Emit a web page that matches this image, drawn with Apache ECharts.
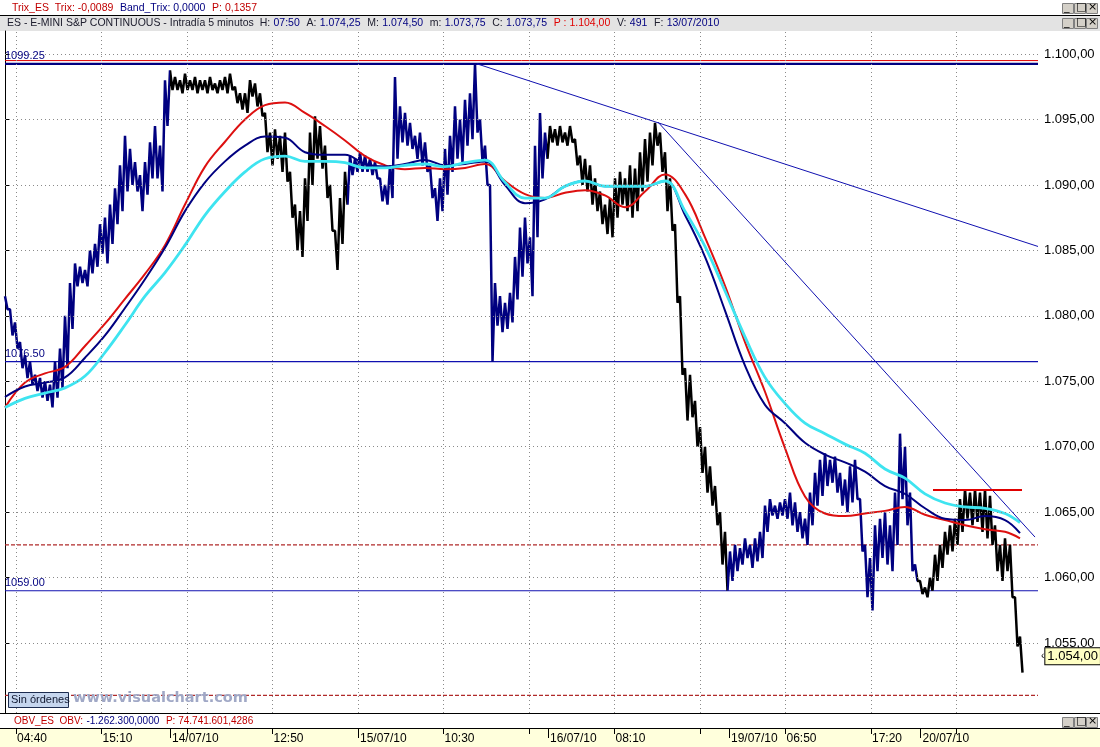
<!DOCTYPE html>
<html>
<head>
<meta charset="utf-8">
<script src="https://cdn.jsdelivr.net/npm/echarts@6.0.0/dist/echarts.min.js"></script>
<style>
html,body{margin:0;padding:0;background:#fff;}
#chart{width:1100px;height:747px;}
</style>
</head>
<body>
<div id="chart"></div>
<script>
// ES e-mini, barras de 5 minutos (una ranura = un grupo de barras)
var priceHigh = [
  1081.5,1080.5,1079.5,1078.0,1077.0,1076.5,1075.5,1075.25,1075.0,1074.75,
  1076.5,1077.5,1080.0,1082.5,1084.0,1083.75,1083.5,1085.0,1085.5,1087.0,
  1087.5,1088.5,1089.75,1091.5,1093.75,1092.75,1091.75,1090.75,1091.75,1093.25,
  1094.5,1093.0,1098.0,1098.75,1098.25,1098.0,1098.5,1098.0,1098.25,1098.0,
  1098.0,1098.25,1097.75,1098.0,1098.25,1098.5,1097.5,1097.0,1097.0,1098.0,
  1097.75,1097.0,1095.5,1094.0,1094.25,1093.75,1094.0,1091.0,1088.5,1088.0,
  1090.5,1094.0,1095.25,1094.5,1093.0,1090.0,1086.5,1089.0,1091.0,1092.25,
  1092.0,1092.5,1092.25,1092.0,1091.75,1090.5,1090.0,1091.5,1098.25,1096.0,
  1095.5,1094.75,1093.75,1094.0,1093.25,1091.5,1089.75,1090.5,1092.75,1093.75,
  1096.0,1095.0,1096.5,1097.0,1099.25,1095.0,1093.0,1090.0,1082.5,1081.5,
  1081.0,1081.75,1084.5,1086.75,1087.5,1086.0,1093.0,1095.5,1094.0,1094.5,
  1094.25,1094.5,1094.0,1094.5,1093.5,1092.25,1092.0,1091.5,1090.5,1089.5,
  1088.5,1089.0,1090.5,1091.0,1090.5,1091.5,1091.25,1092.5,1093.5,1094.0,
  1094.75,1094.0,1092.5,1090.5,1087.0,1081.5,1076.0,1075.5,1073.5,1071.5,
  1070.0,1068.5,1067.0,1065.0,1063.5,1062.0,1062.5,1062.25,1063.0,1062.5,
  1063.0,1063.5,1065.5,1066.0,1065.5,1065.75,1066.0,1066.5,1065.75,1065.0,
  1064.5,1066.5,1068.0,1069.0,1069.5,1069.0,1069.25,1068.0,1067.5,1068.5,
  1069.0,1066.0,1062.5,1061.5,1064.0,1064.5,1065.0,1064.0,1066.5,1071.0,
  1070.0,1066.5,1061.0,1059.75,1059.25,1060.0,1061.75,1062.5,1063.5,1064.0,
  1064.5,1066.0,1066.75,1066.5,1066.75,1066.5,1066.75,1066.25,1064.0,1062.5,
  1063.0,1062.5,1058.5,1055.5
];
var priceLow = [
  1080.5,1078.5,1077.5,1076.0,1075.25,1074.75,1074.25,1073.75,1073.5,1073.0,
  1073.75,1074.5,1076.0,1079.0,1082.25,1082.5,1082.25,1083.25,1083.75,1084.75,
  1084.0,1085.5,1087.0,1088.0,1089.5,1090.0,1089.5,1088.0,1089.25,1090.5,
  1090.5,1089.5,1094.5,1097.25,1097.25,1097.0,1097.25,1097.25,1097.0,1097.25,
  1097.0,1097.25,1097.0,1097.25,1097.0,1097.25,1096.25,1095.75,1095.5,1096.75,
  1096.0,1095.25,1092.5,1091.5,1092.0,1091.0,1090.25,1087.5,1085.0,1084.5,
  1087.25,1090.0,1092.0,1091.25,1089.0,1086.5,1083.5,1085.5,1088.5,1090.75,
  1091.0,1091.0,1091.0,1090.75,1090.5,1088.75,1088.5,1089.0,1092.0,1093.25,
  1093.0,1092.75,1092.0,1091.5,1091.0,1089.0,1087.25,1088.0,1089.25,1091.0,
  1092.0,1091.75,1093.0,1093.5,1094.0,1091.75,1090.0,1076.5,1079.25,1078.75,
  1079.0,1079.5,1081.25,1083.0,1084.0,1081.5,1086.0,1090.5,1092.0,1093.25,
  1093.0,1093.25,1093.0,1093.25,1091.5,1090.0,1089.5,1088.5,1088.0,1087.0,
  1086.25,1086.0,1087.5,1088.5,1088.0,1087.5,1088.0,1089.5,1090.25,1091.5,
  1093.0,1091.0,1088.0,1086.5,1081.0,1075.5,1072.0,1072.25,1070.0,1068.0,
  1066.5,1065.5,1064.0,1061.0,1059.0,1059.75,1060.5,1061.0,1061.5,1060.75,
  1061.25,1061.5,1063.5,1064.75,1064.5,1064.75,1064.5,1064.0,1063.5,1063.0,
  1062.5,1064.0,1065.5,1066.25,1067.0,1067.25,1066.5,1065.5,1065.0,1065.75,
  1066.0,1062.0,1058.5,1057.5,1060.5,1061.5,1061.0,1060.5,1062.5,1066.0,
  1064.0,1060.5,1059.75,1058.75,1058.5,1059.0,1059.75,1060.75,1061.75,1062.0,
  1062.5,1063.5,1064.5,1064.0,1064.25,1063.5,1063.0,1062.5,1060.5,1059.75,
  1060.5,1058.5,1054.75,1052.75
];
var lastClose = 1054.0;

// tramos de color de las barras (azul / negro)
var colorBreaks = [33, 68.5, 108.5, 144.5, 182.5];

// medias moviles
var maSlots = [0,4,8,12,16,20,24,28,32,36,40,44,48,52,56,60,64,68,72,76,
  80,84,88,92,96,100,104,108,112,116,120,124,128,132,136,140,144,148,152,156,
  160,164,168,172,176,180,184,188,192,196,200,203];
var maRed = [1073.0,1074.9,1075.6,1076.1,1077.7,1079.4,1081.3,1083.2,1085.4,1088.5,
  1091.4,1093.3,1095.0,1096.1,1096.3,1095.5,1094.5,1093.4,1092.2,1091.5,
  1091.2,1091.3,1091.2,1091.3,1091.6,1090.3,1089.3,1089.0,1089.4,1089.6,
  1089.2,1088.3,1089.5,1090.8,1089.3,1086.0,1082.3,1078.0,1074.2,1069.9,
  1066.2,1064.9,1064.7,1064.9,1065.1,1065.4,1064.8,1064.4,1064.0,1063.7,
  1063.5,1063.0];
var maNavy = [1073.8,1074.6,1074.9,1075.3,1076.8,1078.5,1080.6,1082.8,1085.2,1088.0,
  1090.2,1091.8,1093.0,1093.7,1093.6,1092.5,1092.3,1092.3,1091.6,1091.4,
  1091.6,1091.9,1091.5,1091.6,1091.8,1090.0,1088.6,1088.9,1089.9,1090.3,
  1089.9,1089.9,1089.9,1090.3,1087.7,1084.5,1080.4,1076.2,1073.2,1071.8,
  1070.3,1069.4,1068.8,1068.1,1067.0,1066.4,1065.3,1064.5,1064.4,1064.7,
  1064.4,1063.4];
var maCyan = [1073.0,1073.7,1074.1,1074.5,1075.4,1077.2,1079.3,1081.5,1083.3,1085.4,
  1087.7,1089.5,1091.0,1092.0,1092.2,1091.8,1091.8,1091.7,1091.3,1091.3,
  1091.5,1091.6,1091.4,1091.7,1091.9,1090.2,1089.0,1089.0,1089.9,1090.3,
  1089.9,1089.9,1089.9,1090.3,1088.0,1085.3,1081.9,1078.4,1075.3,1073.3,
  1071.8,1071.0,1070.2,1069.5,1068.3,1067.6,1066.4,1065.7,1065.4,1065.3,
  1064.9,1064.2];

// niveles y lineas dibujadas
var levelLines = [1099.25, 1076.5, 1059.0];
var levelTexts = ['1099.25', '1076.50', '1059.00'];
var redLevel = 1099.5;
var dashedLevels = [1062.5, 1051.0];
var trendLines = [[94.4, 1099.25, 206.6, 1085.3], [130.6, 1094.8, 206, 1063.1]];
var resistLine = [185.6, 203.4, 1066.75];

// ejes
var yTicks = [1055,1060,1065,1070,1075,1080,1085,1090,1095,1100];
var gridSlots = [2.2,19.3,36.4,53.5,70.6,87.7,104.8,121.9,139,156.1,173.2,190.3];
var timeSlots = [2.2,19.3,53.5,87.7,121.9,156.1,173.2];
var timeLabels = ['04:40','15:10','12:50','10:30','08:10','06:50','17:20'];
var dateSlots = [33,70.6,108.6,144.8,183.1];
var dateLabels = ['14/07/10','15/07/10','16/07/10','19/07/10','20/07/10'];

var X_MAX = 206.6, Y_MIN = 1049.66, Y_MAX = 1101.76;
var NAVY = '#000080', LNAVY = '#1010B0', RED = '#E00000', CYAN = '#3EE4F0', DRED = '#B02A2A';
var FONT = 'Liberation Sans';

function fmtPrice(v) {
  var p = v.toFixed(2).split('.');
  return p[0].replace(/\B(?=(\d{3})+(?!\d))/g, '.') + ',' + p[1];
}
function pick(slots, labels) {
  return function(v) {
    for (var i = 0; i < slots.length; i++) {
      if (Math.abs(slots[i] - v) < 0.01) return labels[i];
    }
    return '';
  };
}

var pricePts = [];
priceHigh.forEach(function(h, i) {
  pricePts.push([i, h]);
  pricePts.push([i + 0.5, priceLow[i]]);
});
function maPts(arr) {
  return arr.map(function(v, i) { return [maSlots[i], v]; });
}

var pieces = [];
var cols = [NAVY, '#000000'];
for (var i = 0; i <= colorBreaks.length; i++) {
  var pc = {color: cols[i % 2]};
  if (i > 0) pc.gte = colorBreaks[i - 1];
  if (i < colorBreaks.length) pc.lt = colorBreaks[i];
  pieces.push(pc);
}

function hLine(v, color, width, type) {
  return {type: 'line', data: [[0, v], [X_MAX, v]], showSymbol: false, symbol: 'none', silent: true, z: 2,
    lineStyle: {color: color, width: width, type: type}};
}

function winButtons() {
  var g = ['_', '□', '×'];
  var out = [];
  g.forEach(function(ch, i) {
    out.push({type: 'rect', shape: {x: i * 12 + 0.5, y: 0.5, width: 11, height: 10}, style: {fill: '#D4D0C8', stroke: '#808080', lineWidth: 1}});
    out.push({type: 'text', x: i * 12 + 2, y: -1, style: {text: ch, fill: '#000', fontSize: 11, fontFamily: 'DejaVu Sans'}});
  });
  return out;
}

var chart = echarts.init(document.getElementById('chart'));

var series = [
  { // cuadricula punteada
    type: 'line', data: [], silent: true,
    markLine: {silent: true, symbol: 'none', label: {show: false},
      lineStyle: {color: '#8a8a8a', type: [1, 3], width: 1},
      data: yTicks.map(function(v) { return {yAxis: v}; })
        .concat(gridSlots.map(function(s) { return {xAxis: s}; }))}
  },
  { // etiquetas de los niveles
    type: 'line', data: [], silent: true, clip: false,
    markLine: {silent: true, symbol: 'none', lineStyle: {width: 0, color: 'rgba(0,0,0,0)'},
      data: levelLines.map(function(v, i) {
        return {yAxis: v, label: {show: true, position: 'insideStartTop', distance: [0, 2], formatter: levelTexts[i],
          color: NAVY, fontSize: 11, fontFamily: FONT}};
      })}
  },
  { // precio
    type: 'line', data: pricePts, showSymbol: false, symbol: 'none', z: 3,
    lineStyle: {width: 2.5}
  },
  {type: 'line', data: maPts(maRed), smooth: 0.4, showSymbol: false, symbol: 'none', z: 4,
    lineStyle: {color: '#DD1010', width: 2}},
  {type: 'line', data: maPts(maNavy), smooth: 0.4, showSymbol: false, symbol: 'none', z: 4,
    lineStyle: {color: NAVY, width: 2}},
  {type: 'line', data: maPts(maCyan), smooth: 0.4, showSymbol: false, symbol: 'none', z: 4,
    lineStyle: {color: CYAN, width: 2.8}},
  { // lineas de tendencia y ultimo precio
    type: 'line', data: [], silent: true, z: 5, clip: false,
    markLine: {silent: true, symbol: 'none',
      data: trendLines.map(function(t) {
        return [{coord: [t[0], t[1]], lineStyle: {color: LNAVY, width: 1, type: 'solid'}, label: {show: false}},
                {coord: [t[2], t[3]]}];
      }).concat([[{coord: [resistLine[0], resistLine[2]], lineStyle: {color: RED, width: 2.2, type: 'solid'}, label: {show: false}},
                  {coord: [resistLine[1], resistLine[2]]}]])
        .concat([{yAxis: lastClose, lineStyle: {width: 0, color: 'rgba(0,0,0,0)'},
          label: {show: true, position: 'end', distance: 3,
            formatter: '{a|‹}{b|' + fmtPrice(lastClose) + '}',
            rich: {a: {fontSize: 10, color: '#000', padding: [0, 1, 0, 0]},
                   b: {fontSize: 13, fontFamily: FONT, color: '#000', backgroundColor: '#FFFFC4',
                     borderColor: '#000', borderWidth: 1, padding: [2, 2, 1, 2]}}}}])}
  },
  hLine(levelLines[0], NAVY, 2.2, 'solid'),
  hLine(redLevel, RED, 1, 'solid')
];
levelLines.slice(1).forEach(function(v) { series.push(hLine(v, LNAVY, 1.1, 'solid')); });
dashedLevels.forEach(function(v) { series.push(hLine(v, DRED, 1.2, [4, 2])); });

var option = {
  animation: false,
  backgroundColor: '#ffffff',
  grid: [
    {left: 5, right: 62, top: 31, bottom: 34},
    {left: 5, right: 62, top: 728, height: 1}
  ],
  xAxis: [
    {type: 'value', gridIndex: 0, min: 0, max: X_MAX, show: false},
    {type: 'value', gridIndex: 1, min: 0, max: X_MAX, position: 'bottom',
      axisLine: {show: false},
      axisTick: {show: true, length: 5, customValues: gridSlots, lineStyle: {color: '#000'}},
      axisLabel: {customValues: timeSlots, formatter: pick(timeSlots, timeLabels), align: 'left',
        padding: [0, 0, 0, 1], margin: 4, fontSize: 12, fontFamily: FONT, color: '#000'},
      splitLine: {show: false}},
    {type: 'value', gridIndex: 1, min: 0, max: X_MAX, position: 'bottom',
      axisLine: {show: false},
      axisTick: {show: true, length: 9, customValues: dateSlots, lineStyle: {color: '#000'}},
      axisLabel: {customValues: dateSlots, formatter: pick(dateSlots, dateLabels), align: 'left',
        padding: [0, 0, 0, 2], margin: 4, fontSize: 12, fontFamily: FONT, color: '#000'},
      splitLine: {show: false}}
  ],
  yAxis: [
    {type: 'value', gridIndex: 0, position: 'right', min: Y_MIN, max: Y_MAX,
      axisLine: {show: true, lineStyle: {color: '#000', width: 1}},
      axisTick: {show: true, length: 4, customValues: yTicks, lineStyle: {color: '#000'}},
      axisLabel: {customValues: yTicks, formatter: fmtPrice, margin: 6, fontSize: 13,
        fontFamily: FONT, color: '#000'},
      splitLine: {show: false}},
    {type: 'value', gridIndex: 1, show: false}
  ],
  visualMap: {type: 'piecewise', show: false, seriesIndex: 2, dimension: 0, pieces: pieces},
  series: series,
  graphic: [
    {type: 'rect', z: 0, shape: {x: 0, y: 15, width: 1100, height: 16}, style: {fill: '#E3E3E3'}},
    {type: 'line', z: 1, shape: {x1: 0, y1: 15.5, x2: 1100, y2: 15.5}, style: {stroke: '#000', lineWidth: 1}},
    {type: 'line', z: 1, shape: {x1: 0, y1: 713.5, x2: 1100, y2: 713.5}, style: {stroke: '#000', lineWidth: 1}},
    {type: 'rect', z: 0, shape: {x: 0, y: 729, width: 1100, height: 18}, style: {fill: '#FFFFDC'}},
    {type: 'line', z: 1, shape: {x1: 0, y1: 728.5, x2: 1100, y2: 728.5}, style: {stroke: '#000', lineWidth: 1}},
    {type: 'text', z: 10, left: 12, top: 2, style: {
      text: '{r|Trix_ES  Trix: -0,0089}  {b|Band_Trix: 0,0000}  {r|P: 0,1357}',
      rich: {r: {fill: '#C00000', fontSize: 10.5, fontFamily: FONT}, b: {fill: NAVY, fontSize: 10.5, fontFamily: FONT}}}},
    {type: 'text', z: 10, left: 7, top: 17, style: {
      text: '{k|ES - E-MINI S&P CONTINUOUS - Intradía 5 minutos  H:} {v|07:50}  {k|A:} {v|1.074,25}  {k|M:} {v|1.074,50}  {k|m:} {v|1.073,75}  {k|C:} {v|1.073,75}  {r|P : 1.104,00}  {k|V:} {v|491}  {k|F:} {v|13/07/2010}',
      rich: {k: {fill: '#202030', fontSize: 10.5, fontFamily: FONT}, v: {fill: NAVY, fontSize: 10.5, fontFamily: FONT},
             r: {fill: RED, fontSize: 10.5, fontFamily: FONT}}}},
    {type: 'text', z: 10, left: 14, top: 715, style: {
      text: '{r|OBV_ES  OBV:} {b|-1.262.300,0000}  {r|P: 74.741.601,4286}',
      rich: {r: {fill: '#C00000', fontSize: 10, fontFamily: FONT}, b: {fill: NAVY, fontSize: 10, fontFamily: FONT}}}},
    {type: 'rect', z: 10, shape: {x: 8.5, y: 692.5, width: 60, height: 15}, style: {fill: '#C6D6EE', stroke: '#1C2C50', lineWidth: 1}},
    {type: 'text', z: 11, left: 11, top: 694, style: {text: 'Sin órdenes', fill: '#101830', fontSize: 11, fontFamily: FONT}},
    {type: 'text', z: 9, left: 73, top: 691, style: {text: 'www.visualchart.com', fill: '#A0A8C6', fontSize: 14.5,
      fontWeight: 'bold', fontFamily: 'DejaVu Sans'}},
    {type: 'group', z: 10, left: 1062, top: 2, children: winButtons()},
    {type: 'group', z: 10, left: 1062, top: 17, children: winButtons()},
    {type: 'group', z: 10, left: 1062, top: 716, children: winButtons()}
  ]
};

chart.setOption(option);
</script>
</body>
</html>
